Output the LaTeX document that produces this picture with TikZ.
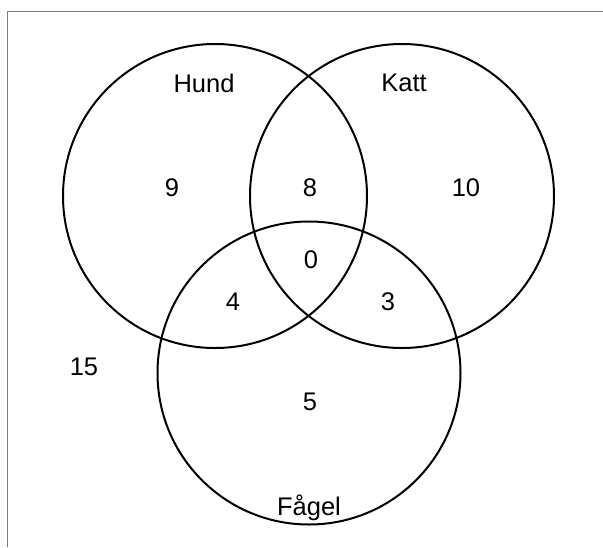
\documentclass[tikz,border=0pt]{standalone}
\usepackage{fontspec}
\setmainfont{Liberation Sans}
\begin{document}
\begin{tikzpicture}[x=1pt,y=-1pt,
  setc/.style={draw=black,line width=2pt,circle,minimum size=304pt,inner sep=0pt},
  lbl/.style={font=\fontsize{25.5}{30}\selectfont,inner sep=0pt}]
\useasboundingbox (0,0) rectangle (603,547);
\coordinate (bl) at (7,547);
\coordinate (tl) at (7,11);
\coordinate (tr) at (603,11);
\draw[gray,line width=1pt] (bl) -- (tl) -- (tr);
\node[setc] (hund) at (215,196) {};
\node[setc] (katt) at (402,196) {};
\node[setc,minimum size=303pt] (fagel) at (309,373) {};
\node[lbl] (lh) at (204,83) {Hund};
\node[lbl] (lk) at (404,83) {Katt};
\node[lbl] (lf) at (309,508) {Fågel};
\node[lbl] (n9) at (172,188) {9};
\node[lbl] (n8) at (310,188) {8};
\node[lbl] (n10) at (466,188) {10};
\node[lbl] (n0) at (311,260) {0};
\node[lbl] (n4) at (233,302) {4};
\node[lbl] (n3) at (388,302) {3};
\node[lbl] (n15) at (84,367) {15};
\node[lbl] (n5) at (310,402) {5};
\end{tikzpicture}
\end{document}
